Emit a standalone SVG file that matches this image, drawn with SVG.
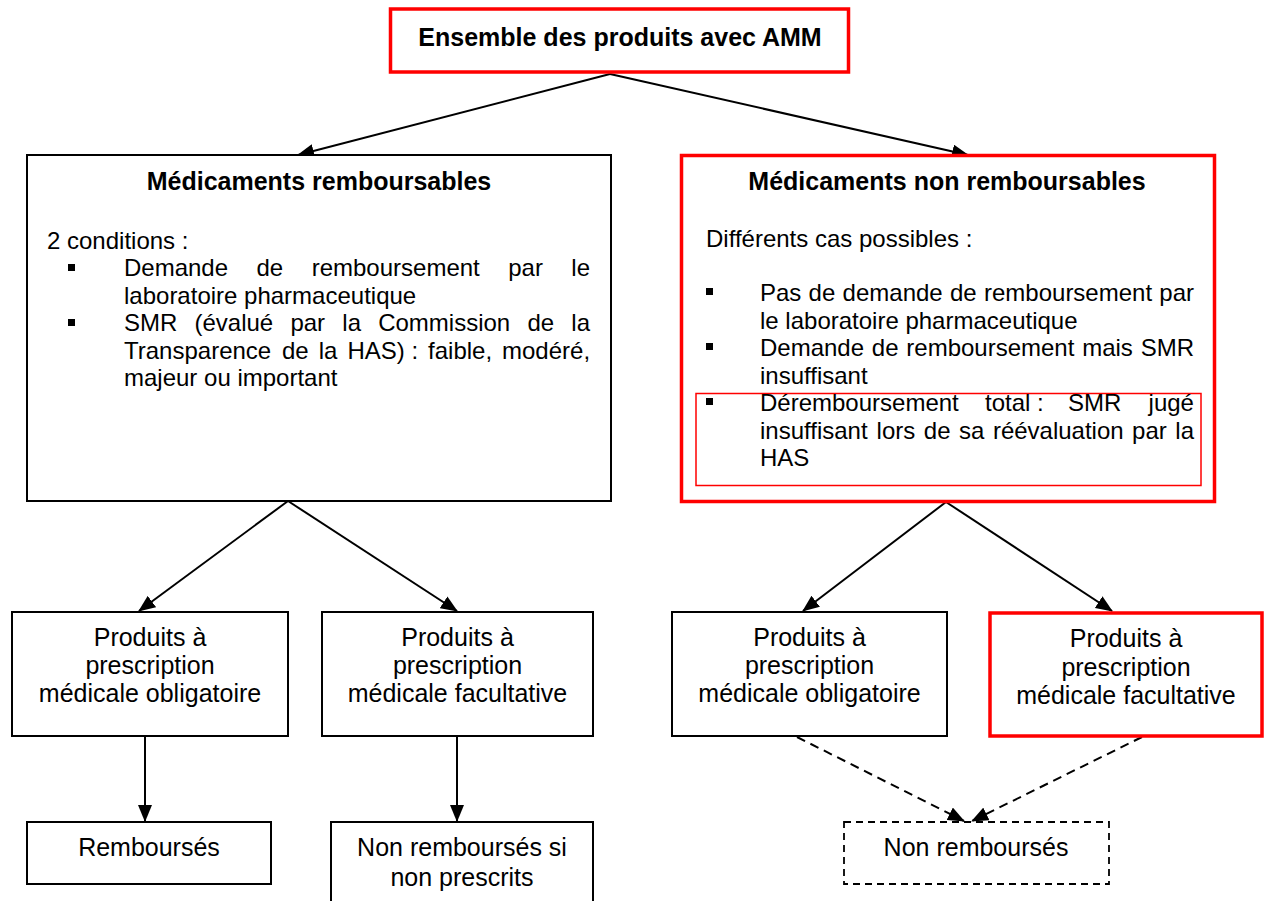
<svg xmlns="http://www.w3.org/2000/svg" width="1267" height="901" viewBox="0 0 1267 901">
<style>
text{font-family:"Liberation Sans",Arial,sans-serif;fill:#000}
.t{font-size:25px;font-weight:bold;text-anchor:middle}
.b{font-size:24px}
.c{font-size:25px;text-anchor:middle}
.box{fill:#fff;stroke:#000;stroke-width:2}
.red{fill:#fff;stroke:#ff0000;stroke-width:3.5}
.thin{fill:none;stroke:#ff0000;stroke-width:1.5}
.dash{fill:#fff;stroke:#000;stroke-width:1.8;stroke-dasharray:7,5}
.con{fill:none;stroke:#000;stroke-width:2}
.dcon{fill:none;stroke:#000;stroke-width:2;stroke-dasharray:9,6}
.bul{fill:#000}
</style>
<defs>
<marker id="arr" viewBox="0 0 17 14" refX="16" refY="7" markerWidth="17" markerHeight="14" markerUnits="userSpaceOnUse" orient="auto">
<path d="M0,0 L17,7 L0,14 z" fill="#000"/>
</marker>
</defs>
<rect width="1267" height="901" fill="#fff"/>

<g id="connectors">
<path class="con" d="M610,74 L298,155" marker-end="url(#arr)"/>
<path class="con" d="M610,74 L968,155" marker-end="url(#arr)"/>
<path class="con" d="M288,501 L139,611" marker-end="url(#arr)"/>
<path class="con" d="M288,501 L457,611" marker-end="url(#arr)"/>
<path class="con" d="M946,502 L803,611" marker-end="url(#arr)"/>
<path class="con" d="M946,502 L1112,611" marker-end="url(#arr)"/>
<path class="con" d="M145,736 L145,821" marker-end="url(#arr)"/>
<path class="con" d="M457,736 L457,821" marker-end="url(#arr)"/>
<path class="dcon" d="M797,737 L964,821" marker-end="url(#arr)"/>
<path class="dcon" d="M1142,737 L972,821" marker-end="url(#arr)"/>
</g>

<g id="n-ensemble">
<rect class="red" x="390.5" y="9" width="458" height="63"/>
<text class="t" x="620" y="46">Ensemble des produits avec AMM</text>
</g>

<g id="n-remboursables">
<rect class="box" x="27" y="155" width="584" height="346"/>
<text class="t" x="319" y="190">Médicaments remboursables</text>
<text class="b" x="47" y="249">2 conditions :</text>
<rect class="bul" x="68" y="264" width="7" height="7"/>
<text class="b" y="276"><tspan x="124">Demande</tspan><tspan x="256.5">de</tspan><tspan x="311.7">remboursement</tspan><tspan x="508.2">par</tspan><tspan x="571.3">le</tspan></text>
<text class="b" x="124" y="303.5">laboratoire pharmaceutique</text>
<rect class="bul" x="68" y="319" width="7" height="7"/>
<text class="b" y="331"><tspan x="124">SMR</tspan><tspan x="194.5">(évalué</tspan><tspan x="290.4">par</tspan><tspan x="342.3">la</tspan><tspan x="378.2">Commission</tspan><tspan x="527.4">de</tspan><tspan x="571.3">la</tspan></text>
<text class="b" y="358.5"><tspan x="124">Transparence</tspan><tspan x="282">de</tspan><tspan x="318.7">la</tspan><tspan x="347.4">HAS)</tspan><tspan x="411.4">:</tspan><tspan x="428.1">faible,</tspan><tspan x="502">modéré,</tspan></text>
<text class="b" x="124" y="386">majeur ou important</text>
</g>

<g id="n-non-remboursables">
<rect class="red" x="681.5" y="155.5" width="533" height="346"/>
<text class="t" x="947" y="190">Médicaments non remboursables</text>
<text class="b" x="706" y="247">Différents cas possibles :</text>
<rect class="bul" x="706" y="288" width="7" height="7"/>
<text class="b" y="301"><tspan x="760">Pas</tspan><tspan x="808.6">de</tspan><tspan x="842.6">demande</tspan><tspan x="950">de</tspan><tspan x="984">remboursement</tspan><tspan x="1159.3">par</tspan></text>
<text class="b" x="760" y="328.5">le laboratoire pharmaceutique</text>
<rect class="bul" x="706" y="343" width="7" height="7"/>
<text class="b" y="356"><tspan x="760">Demande</tspan><tspan x="871.8">de</tspan><tspan x="906.3">remboursement</tspan><tspan x="1082.2">mais</tspan><tspan x="1140.7">SMR</tspan></text>
<text class="b" x="760" y="383.5">insuffisant</text>
<g id="n-deremboursement">
<rect class="thin" x="696" y="393.5" width="505" height="92"/>
<rect class="bul" x="706" y="398" width="7" height="7"/>
<text class="b" y="411"><tspan x="760">Déremboursement</tspan><tspan x="985">total</tspan><tspan x="1037">:</tspan><tspan x="1068">SMR</tspan><tspan x="1148.6">jugé</tspan></text>
<text class="b" y="438.5"><tspan x="760">insuffisant</tspan><tspan x="876.6">lors</tspan><tspan x="923.8">de</tspan><tspan x="959">sa</tspan><tspan x="992.9">réévaluation</tspan><tspan x="1132.1">par</tspan><tspan x="1175.3">la</tspan></text>
<text class="b" x="760" y="466">HAS</text>
</g>
</g>

<g id="n-pmo-1">
<rect class="box" x="12" y="612" width="276" height="124"/>
<text class="c" x="150" y="646">Produits à</text>
<text class="c" x="150" y="674">prescription</text>
<text class="c" x="150" y="702">médicale obligatoire</text>
</g>

<g id="n-pmf-1">
<rect class="box" x="322" y="612" width="271" height="124"/>
<text class="c" x="457.5" y="646">Produits à</text>
<text class="c" x="457.5" y="674">prescription</text>
<text class="c" x="457.5" y="702">médicale facultative</text>
</g>

<g id="n-pmo-2">
<rect class="box" x="672" y="612" width="275" height="124"/>
<text class="c" x="809.5" y="646">Produits à</text>
<text class="c" x="809.5" y="674">prescription</text>
<text class="c" x="809.5" y="702">médicale obligatoire</text>
</g>

<g id="n-pmf-2">
<rect class="red" x="990" y="613" width="272" height="123"/>
<text class="c" x="1126" y="647">Produits à</text>
<text class="c" x="1126" y="676">prescription</text>
<text class="c" x="1126" y="704">médicale facultative</text>
</g>

<g id="n-rembourses">
<rect class="box" x="27" y="822" width="244" height="62"/>
<text class="c" x="149" y="856">Remboursés</text>
</g>

<g id="n-non-rembourses-si">
<rect class="box" x="331" y="822" width="262" height="85"/>
<text class="c" x="462" y="856">Non remboursés si</text>
<text class="c" x="462" y="886">non prescrits</text>
</g>

<g id="n-non-rembourses">
<rect class="dash" x="844" y="822" width="265" height="62"/>
<text class="c" x="976" y="856">Non remboursés</text>
</g>
</svg>
